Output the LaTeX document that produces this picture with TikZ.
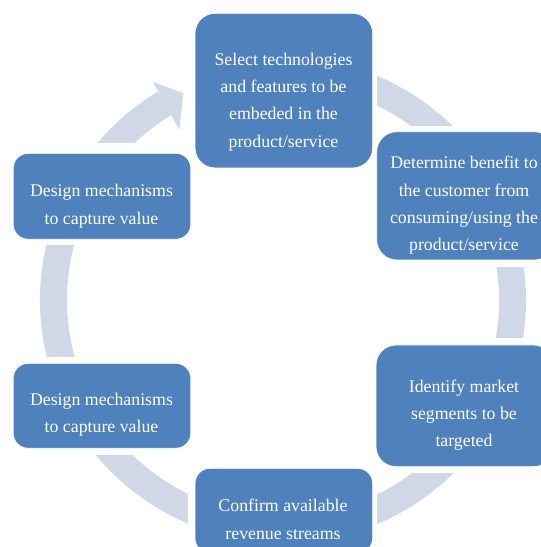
\documentclass[tikz,border=0pt]{standalone}
\usepackage{fontspec}
\setmainfont{Liberation Serif}
\definecolor{boxc}{HTML}{4F81BD}
\definecolor{ringc}{HTML}{D0D8E8}
\begin{document}
\begin{tikzpicture}[x=1pt,y=1pt,
  box/.style={draw=white, line width=0.8pt, fill=boxc, rectangle, inner sep=0pt, minimum width=177.7pt},
  lbl/.style={text=white, align=center, font=\fontsize{17.8}{27.3}\selectfont, inner sep=0pt},
  cover/.style={fill=white, draw=none}]
\useasboundingbox (0,0) rectangle (541,547);
\clip (0,0) rectangle (541,547);
\coordinate (c) at (283,247);
% ring arrow
\draw[ringc, line width=27pt] ([shift={(100:229.5pt)}]c) arc[start angle=100, end angle=-239, radius=229.5pt];
\fill[ringc] ([shift={(121.4:199pt)}]c) -- ([shift={(115.75:229.5pt)}]c) -- ([shift={(120.8:254pt)}]c) -- cycle;
% gaps around the boxes
\fill[cover] (189,375) rectangle (377,547);
\fill[cover] (377,280.3) rectangle (541,421);
\fill[cover] (377,74) rectangle (541,209);
\fill[cover] (188,0) rectangle (377,85);
\fill[cover] (0,92) rectangle (188,190.3);
\fill[cover] (0,302) rectangle (191,404);
% boxes
\node[box, rounded corners=20pt, minimum height=154.7pt] (b1) at (283.85,456.35) {};
\node[box, rounded corners=20pt, minimum height=128.3pt] (b2) at (465.55,351.15) {};
\node[box, rounded corners=20pt, minimum height=121.7pt] (b3) at (464.85,141.15) {};
\node[box, rounded corners=15pt, minimum height=85pt] (b4) at (283.85,36.2) {};
\node[box, rounded corners=15pt, minimum height=85pt] (b5) at (102,141.2) {};
\node[box, rounded corners=15pt, minimum height=86pt] (b6) at (102,350.7) {};
% labels
\node[lbl] (t1) at (283.5,445.2) {Select technologies\\and features to be\\embeded in the\\product/service};
\node[lbl] (t2) at (464,341.5) {Determine benefit to\\the customer from\\consuming/using the\\product/service};
\node[lbl] (t3) at (464,131.7) {Identify market\\segments to be\\targeted};
\node[lbl] (t4) at (283,27.8) {Confirm available\\revenue streams};
\node[lbl] (t5) at (101.5,132) {Design mechanisms\\to capture value};
\node[lbl] (t6) at (101.5,340.7) {Design mechanisms\\to capture value};
\end{tikzpicture}
\end{document}
